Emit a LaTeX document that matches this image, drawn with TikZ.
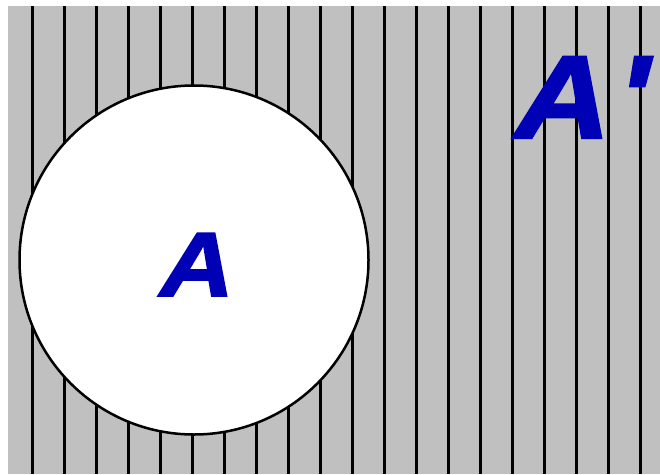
\documentclass[tikz,border=0pt]{standalone}
\usepackage{fontspec}
\setmainfont{Liberation Sans}
\newfontfamily\heavyfont[FakeBold=2,FakeStretch=1.12]{Liberation Sans}
\definecolor{bggray}{RGB}{192,192,192}
\definecolor{letterblue}{RGB}{0,0,180}
\tikzset{
  hatchline/.style={draw=black, line width=3pt},
  setcircle/.style={draw=black, fill=white, line width=2.5pt},
  biglabel/.style={text=letterblue, inner sep=0pt, anchor=base west}
}
\begin{document}
\begin{tikzpicture}[x=1pt, y=-1pt]
  \useasboundingbox (0,0) rectangle (660,474);
  \fill[white] (0,0) rectangle (660,474);
  \fill[bggray] (8,6) rectangle (660,474);
  \foreach \k in {1,...,20} {
    \draw[hatchline] ({32*\k+0.5},6) -- ({32*\k+0.5},474);
  }
  \draw[setcircle] (194,260) circle[radius=174.5];
  \node[biglabel, font=\heavyfont\fontsize{91}{91}\selectfont\bfseries\itshape] (a) at (160,296) {A};
  \node[biglabel, font=\heavyfont\fontsize{118}{118}\selectfont\bfseries\itshape] (aprime) at (515,138) {A\kern 7pt\char"27};
\end{tikzpicture}
\end{document}
